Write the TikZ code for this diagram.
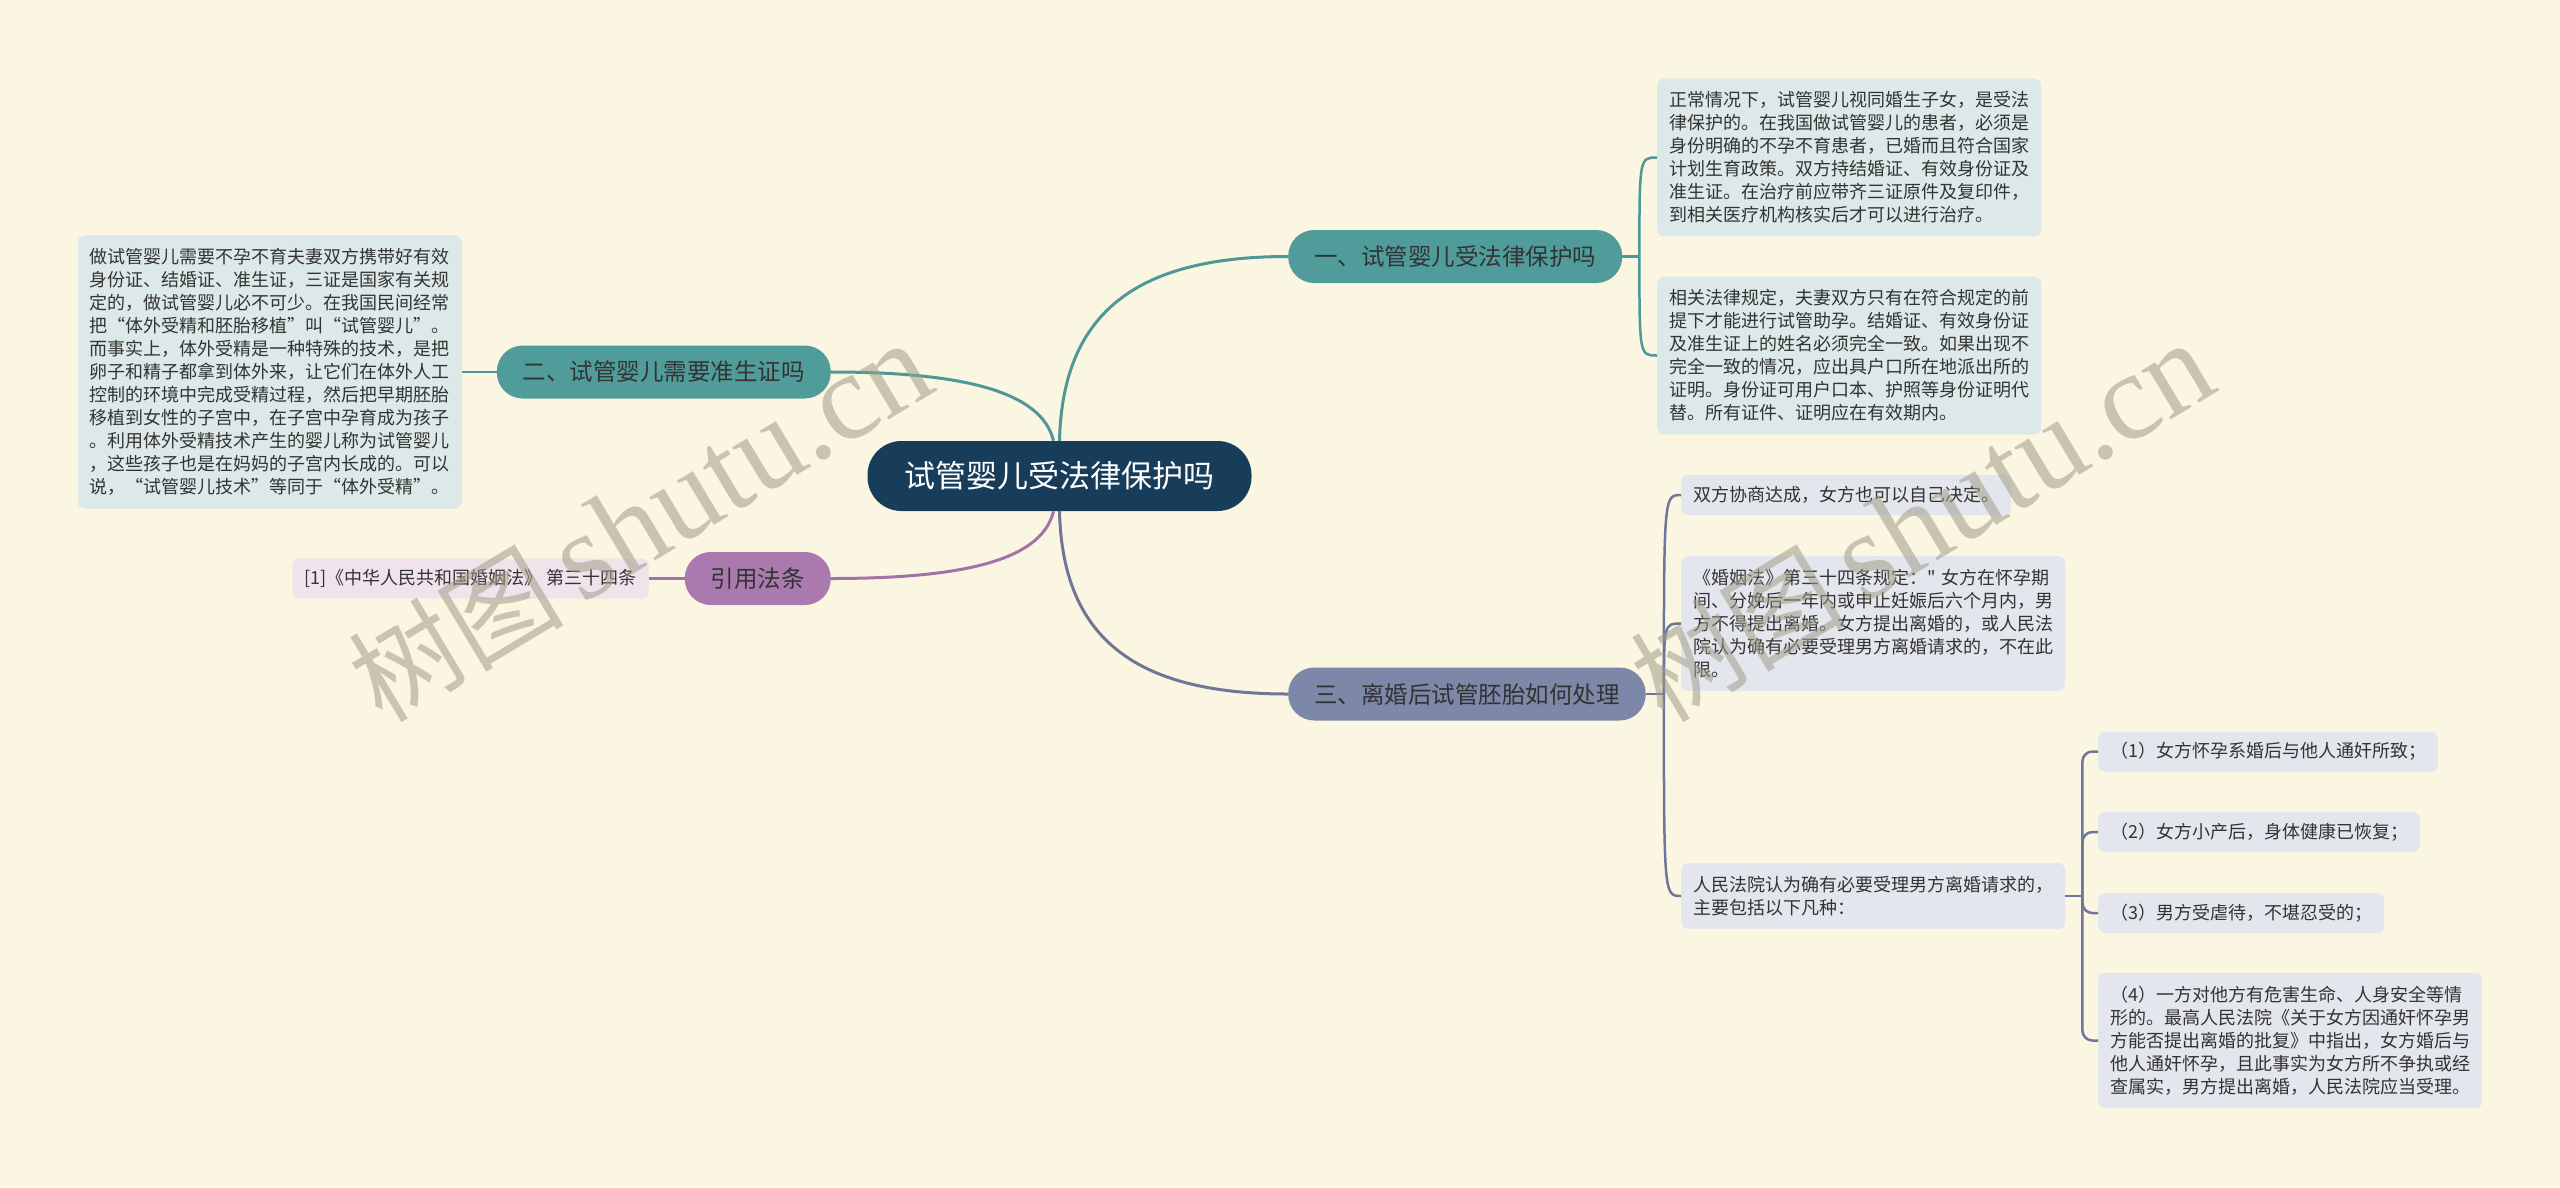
\documentclass[tikz,border=0pt]{standalone}
\usepackage{fontspec}
\setmainfont{Noto Sans CJK SC}
\newfontfamily\wmfont{Liberation Serif}
\usetikzlibrary{positioning}

\definecolor{bgcream}{HTML}{FBF6E2}
\definecolor{rootblue}{HTML}{173D5B}
\definecolor{tealfill}{HTML}{4F9C9B}
\definecolor{tealwire}{HTML}{4E9897}
\definecolor{tealpale}{HTML}{DCE9E8}
\definecolor{plumfill}{HTML}{AA7AAE}
\definecolor{plumwire}{HTML}{A273A8}
\definecolor{plumpale}{HTML}{F0E4EC}
\definecolor{slatefill}{HTML}{7D87A7}
\definecolor{slatewire}{HTML}{6E7797}
\definecolor{slatepale}{HTML}{E4E6EE}
\definecolor{inkgray}{HTML}{333333}
\definecolor{wmgray}{HTML}{A09C88}

\begin{document}
\begin{tikzpicture}[x=1pt, y=-1pt,
    rootnode/.style={fill=rootblue, text=white, rounded corners=34pt, minimum height=70pt, inner xsep=37pt, font=\fontsize{31}{36}\selectfont},
    topic/.style={rounded corners=26pt, minimum height=53pt, inner xsep=26pt, text=inkgray, font=\fontsize{23.5}{28}\selectfont},
    note/.style={rounded corners=7pt, inner xsep=12pt, inner ysep=13pt, text=inkgray, align=left, font=\fontsize{18}{23}\selectfont},
    notebox/.style={note, text width=360pt},
    noteline/.style={note, text height=15pt, text depth=3pt, inner ysep=11pt},
    wire/.style={line width=3pt},
    twig/.style={line width=2.5pt},
    wmark/.style={rotate=31, text=wmgray, opacity=0.55, inner sep=0pt}
  ]
  % Background
  \fill[bgcream] (0,0) rectangle (2560,1187);

  % Root
  \node (root) [rootnode] at (1059.5,476) {试管婴儿受法律保护吗};

  % Topics
  \node (legal) [topic, fill=tealfill, anchor=west] at (1288,256.5) {一、试管婴儿受法律保护吗};
  \node (permit) [topic, fill=tealfill, anchor=east] at (831,372) {二、试管婴儿需要准生证吗};
  \node (cite) [topic, fill=plumfill, anchor=east] at (831,578.5) {引用法条};
  \node (divorce) [topic, fill=slatefill, anchor=west] at (1288,694) {三、离婚后试管胚胎如何处理};

  % Notes of topic one
  \node (legala) [notebox, fill=tealpale, anchor=west] at (1657,157.5) {正常情况下，试管婴儿视同婚生子女，是受法\\律保护的。在我国做试管婴儿的患者，必须是\\身份明确的不孕不育患者，已婚而且符合国家\\计划生育政策。双方持结婚证、有效身份证及\\准生证。在治疗前应带齐三证原件及复印件，\\到相关医疗机构核实后才可以进行治疗。};
  \node (legalb) [notebox, fill=tealpale, anchor=west] at (1657,355.5) {相关法律规定，夫妻双方只有在符合规定的前\\提下才能进行试管助孕。结婚证、有效身份证\\及准生证上的姓名必须完全一致。如果出现不\\完全一致的情况，应出具户口所在地派出所的\\证明。身份证可用户口本、护照等身份证明代\\替。所有证件、证明应在有效期内。};

  % Note of topic two
  \node (permita) [notebox, fill=tealpale, anchor=east] at (462,372) {做试管婴儿需要不孕不育夫妻双方携带好有效\\身份证、结婚证、准生证，三证是国家有关规\\定的，做试管婴儿必不可少。在我国民间经常\\把“体外受精和胚胎移植”叫“试管婴儿”。\\而事实上，体外受精是一种特殊的技术，是把\\卵子和精子都拿到体外来，让它们在体外人工\\控制的环境中完成受精过程，然后把早期胚胎\\移植到女性的子宫中，在子宫中孕育成为孩子\\。利用体外受精技术产生的婴儿称为试管婴儿\\，这些孩子也是在妈妈的子宫内长成的。可以\\说，“试管婴儿技术”等同于“体外受精”。};

  % Citation
  \node (citea) [noteline, fill=plumpale, anchor=east] at (649,578.5) {[1]《中华人民共和国婚姻法》 第三十四条};

  % Notes of topic three
  \node (divorcea) [noteline, fill=slatepale, anchor=west] at (1681,495) {双方协商达成，女方也可以自己决定。};
  \node (divorceb) [notebox, fill=slatepale, anchor=west] at (1681,623.5) {《婚姻法》第三十四条规定：\textquotedbl~女方在怀孕期\\间、分娩后一年内或申止妊娠后六个月内，男\\方不得提出离婚。女方提出离婚的，或人民法\\院认为确有必要受理男方离婚请求的，不在此\\限。};
  \node (divorcec) [notebox, fill=slatepale, anchor=west] at (1681,896) {人民法院认为确有必要受理男方离婚请求的，\\主要包括以下凡种：};

  % Cases
  \node (casea) [noteline, fill=slatepale, anchor=west] at (2098,751.5) {（1）女方怀孕系婚后与他人通奸所致；};
  \node (caseb) [noteline, fill=slatepale, anchor=west] at (2098,832) {（2）女方小产后，身体健康已恢复；};
  \node (casec) [noteline, fill=slatepale, anchor=west] at (2098,913) {（3）男方受虐待，不堪忍受的；};
  \node (cased) [notebox, fill=slatepale, anchor=west] at (2098,1040.5) {（4）一方对他方有危害生命、人身安全等情\\形的。最高人民法院《关于女方因通奸怀孕男\\方能否提出离婚的批复》中指出，女方婚后与\\他人通奸怀孕，且此事实为女方所不争执或经\\查属实，男方提出离婚，人民法院应当受理。};

  % Root connections
  \draw[wire, tealwire] (root.north) .. controls +(3,-131) and +(-148,0) .. (legal.west);
  \draw[wire, tealwire] ([xshift=-6pt]root.north) .. controls +(-12,-50) and +(130,0) .. (permit.east);
  \draw[wire, plumwire] ([xshift=-6pt]root.south) .. controls +(-12,50) and +(130,0) .. (cite.east);
  \draw[wire, slatewire] (root.south) .. controls +(3,131) and +(-148,0) .. (divorce.west);

  % Topic connections
  \draw[twig, tealwire] (legal.east) -- ++(17,0) coordinate (legalj);
  \draw[twig, tealwire] (legalj) .. controls (legalj |- legala.west) .. (legala.west);
  \draw[twig, tealwire] (legalj) .. controls (legalj |- legalb.west) .. (legalb.west);
  \draw[twig, tealwire] (permit.west) -- (permita.east);
  \draw[twig, plumwire] (cite.west) -- (citea.east);
  \draw[twig, slatewire] (divorce.east) -- ++(18,0) coordinate (divorcej);
  \draw[twig, slatewire] (divorcej) .. controls (divorcej |- divorcea.west) .. (divorcea.west);
  \draw[twig, slatewire] (divorcej) .. controls (divorcej |- divorceb.west) .. (divorceb.west);
  \draw[twig, slatewire] (divorcej) .. controls (divorcej |- divorcec.west) .. (divorcec.west);

  % Case connections
  \draw[twig, slatewire] (divorcec.east) -- ++(17,0) coordinate (divorcecj);
  \draw[twig, slatewire, rounded corners=10pt] (divorcecj) |- (casea.west);
  \draw[twig, slatewire, rounded corners=10pt] (divorcecj) |- (caseb.west);
  \draw[twig, slatewire, rounded corners=10pt] (divorcecj) |- (casec.west);
  \draw[twig, slatewire, rounded corners=10pt] (divorcecj) |- (cased.west);

  % Watermarks
  \node (wmleft) [wmark] at (640,522) {{\fontsize{108}{108}\selectfont 树图}\hspace{18pt}{\wmfont\fontsize{124}{124}\selectfont shutu.cn}};
  \node (wmright) [wmark] at (1922,522) {{\fontsize{108}{108}\selectfont 树图}\hspace{18pt}{\wmfont\fontsize{124}{124}\selectfont shutu.cn}};
\end{tikzpicture}
\end{document}
